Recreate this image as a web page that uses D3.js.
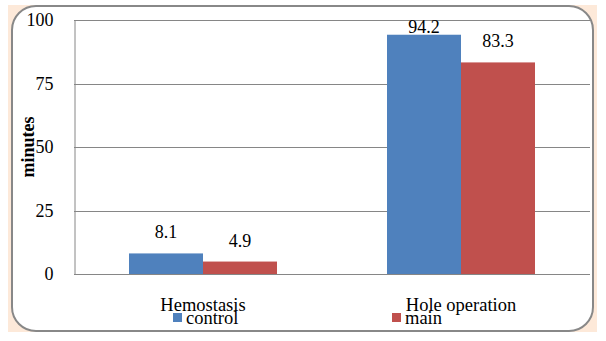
<!DOCTYPE html>
<html>
<head>
<meta charset="utf-8">
<script src="https://cdn.jsdelivr.net/npm/d3@7"></script>
</head>
<body style="margin:0">
<script>
// data
const categories = ["Hemostasis", "Hole operation"];
const seriesNames = ["control", "main"];
const control = [8.1, 94.2];
const main = [4.9, 83.3];
const yTicks = [0, 25, 50, 75, 100];

const colors = ["#4f81bd", "#c0504d"];
const fontStack = "Liberation Serif, Times New Roman, serif";

const W = 606, H = 341;
const margin = {top: 20, right: 16, bottom: 67, left: 74};

const svg = d3.select("body").append("svg")
    .attr("width", W)
    .attr("height", H)
    .attr("font-family", fontStack);

// frame
svg.append("rect")
    .attr("x", 8).attr("y", 5)
    .attr("width", 589).attr("height", 327)
    .attr("fill", "#fde9d9");
svg.append("rect")
    .attr("x", 12).attr("y", 6)
    .attr("width", 581).attr("height", 325)
    .attr("rx", 24).attr("ry", 24)
    .attr("fill", "#fff")
    .attr("stroke", "#888")
    .attr("stroke-width", 2);

const x0 = d3.scaleBand()
    .domain(categories)
    .range([margin.left, W - margin.right])
    .paddingInner(110 / 258)
    .paddingOuter(55 / 258);

const x1 = d3.scaleBand()
    .domain(seriesNames)
    .range([0, x0.bandwidth()]);

const y = d3.scaleLinear()
    .domain([0, 100])
    .range([H - margin.bottom, margin.top]);

// grid lines
svg.append("g").selectAll("line")
    .data(yTicks)
    .enter().append("line")
    .attr("x1", margin.left)
    .attr("x2", W - margin.right)
    .attr("y1", d => Math.round(y(d)) + 0.5)
    .attr("y2", d => Math.round(y(d)) + 0.5)
    .attr("stroke", "#868686")
    .attr("stroke-width", 1);

// y axis
const yAxis = svg.append("g")
    .attr("transform", "translate(" + (margin.left + 0.5) + ",0)")
    .call(d3.axisLeft(y).tickValues(yTicks).tickSize(0).tickPadding(21))
    .attr("font-family", fontStack)
    .attr("font-size", 18);
yAxis.select(".domain").attr("stroke", "#868686");
yAxis.selectAll("text").attr("fill", "#000");

svg.append("text")
    .attr("transform", "translate(34," + 147 + ") rotate(-90)")
    .attr("text-anchor", "middle")
    .attr("font-size", 18)
    .attr("font-weight", "bold")
    .text("minutes");

// bars
const rows = categories.map((c, i) => ({cat: c, values: [control[i], main[i]]}));

const groups = svg.append("g").selectAll("g")
    .data(rows)
    .enter().append("g")
    .attr("transform", d => "translate(" + x0(d.cat) + ",0)");

groups.selectAll("rect")
    .data(d => d.values.map((v, j) => ({name: seriesNames[j], value: v, j: j})))
    .enter().append("rect")
    .attr("x", d => x1(d.name))
    .attr("y", d => y(d.value))
    .attr("width", x1.bandwidth())
    .attr("height", d => y(0) - y(d.value))
    .attr("fill", d => colors[d.j]);

groups.selectAll("text.val")
    .data(d => d.values.map((v, j) => ({name: seriesNames[j], value: v})))
    .enter().append("text")
    .attr("class", "val")
    .attr("x", d => x1(d.name) + x1.bandwidth() / 2)
    .attr("y", d => Math.max(y(d.value) - 15, 33))
    .attr("text-anchor", "middle")
    .attr("font-size", 18)
    .text(d => d.value.toFixed(1));

// category labels
svg.append("g").selectAll("text")
    .data(categories)
    .enter().append("text")
    .attr("x", d => x0(d) + x0.bandwidth() / 2)
    .attr("y", 311)
    .attr("text-anchor", "middle")
    .attr("font-size", 18.5)
    .text(d => d);

// legend
const legendX = [173, 392];
const legend = svg.append("g").selectAll("g")
    .data(seriesNames)
    .enter().append("g")
    .attr("transform", (d, i) => "translate(" + legendX[i] + ",313)");
legend.append("rect")
    .attr("width", 9).attr("height", 9)
    .attr("fill", (d, i) => colors[i]);
legend.append("text")
    .attr("x", 13)
    .attr("y", 11)
    .attr("font-size", 18.5)
    .text(d => d);
</script>
</body>
</html>
